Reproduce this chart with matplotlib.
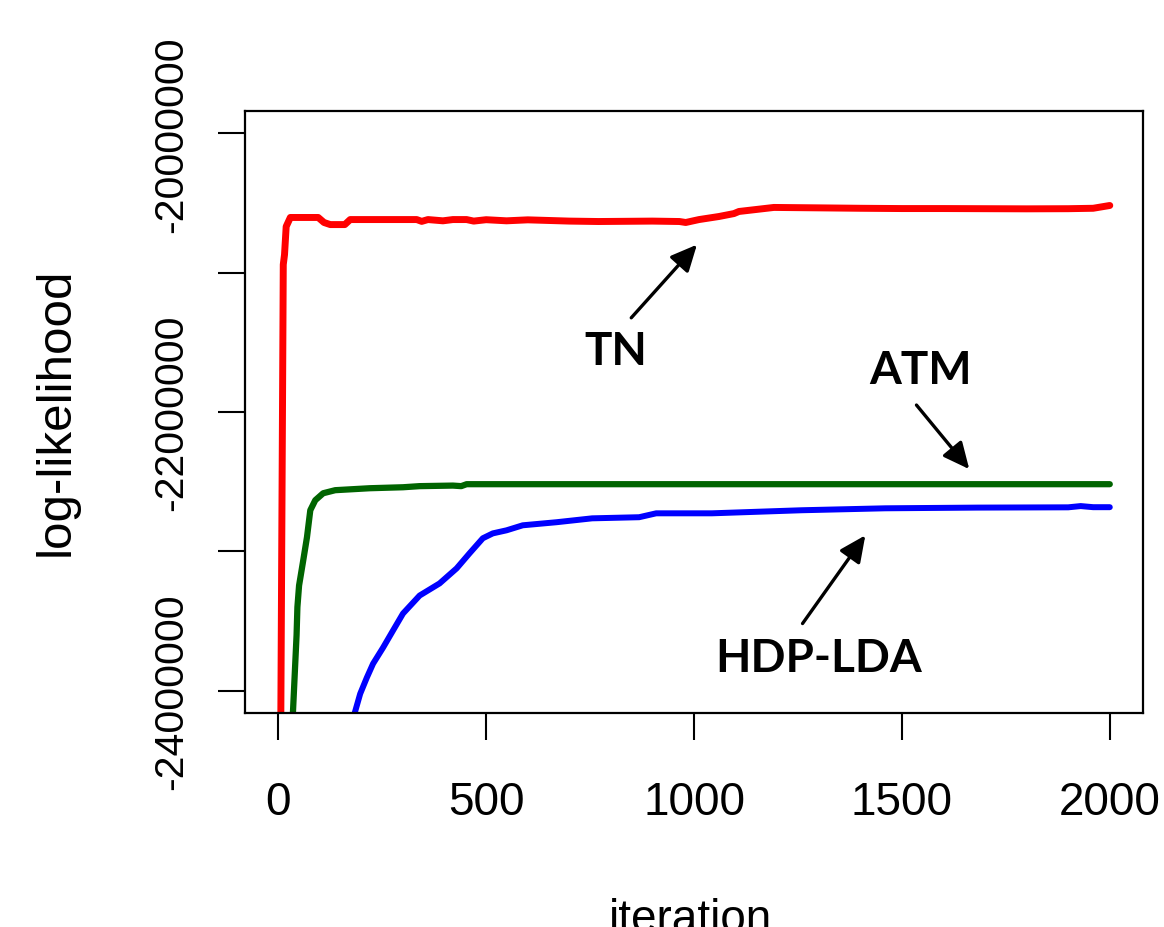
import matplotlib
matplotlib.use("Agg")
import matplotlib.pyplot as plt

# iteration / log-likelihood
tn_iter = [1, 12, 15, 19, 29, 60, 96, 110, 125, 160, 173, 250, 333, 345, 360, 396, 420,
           453, 470, 500, 549, 600, 700, 770, 900, 965, 980, 1012, 1060, 1096, 1108,
           1192, 1300, 1400, 1500, 1600, 1700, 1800, 1900, 1960, 2000]
tn_ll = [-27.0e6, -20.942e6, -20.871e6, -20.669e6, -20.604e6, -20.604e6, -20.604e6,
         -20.640e6, -20.655e6, -20.655e6, -20.619e6, -20.619e6, -20.619e6, -20.632e6,
         -20.619e6, -20.628e6, -20.619e6, -20.619e6, -20.630e6, -20.620e6, -20.628e6,
         -20.621e6, -20.630e6, -20.633e6, -20.630e6, -20.633e6, -20.640e6, -20.619e6,
         -20.597e6, -20.576e6, -20.561e6, -20.532e6, -20.535e6, -20.538e6, -20.540e6,
         -20.540e6, -20.541e6, -20.542e6, -20.541e6, -20.538e6, -20.518e6]

atm_iter = [33, 44, 46, 50, 60, 69, 77, 89, 108, 137, 220, 300, 340, 420, 440, 453, 600,
            1000, 1500, 2000]
atm_ll = [-24.3e6, -23.6e6, -23.4e6, -23.245e6, -23.065e6, -22.899e6, -22.705e6,
          -22.633e6, -22.583e6, -22.561e6, -22.547e6, -22.540e6, -22.532e6, -22.528e6,
          -22.532e6, -22.518e6, -22.518e6, -22.518e6, -22.518e6, -22.518e6]

hdp_iter = [180, 197, 213, 228, 252, 276, 300, 340, 388, 429, 460, 492, 516, 549, 588,
            669, 755, 868, 909, 1043, 1259, 1460, 1683, 1900, 1930, 1960, 2000]
hdp_ll = [-24.2e6, -24.022e6, -23.906e6, -23.806e6, -23.691e6, -23.568e6, -23.446e6,
          -23.317e6, -23.230e6, -23.122e6, -23.014e6, -22.906e6, -22.871e6, -22.849e6,
          -22.813e6, -22.791e6, -22.763e6, -22.755e6, -22.727e6, -22.727e6, -22.705e6,
          -22.691e6, -22.686e6, -22.684e6, -22.675e6, -22.683e6, -22.683e6]

y_ticks = [-24000000, -23000000, -22000000, -21000000, -20000000]
y_tick_labels = ["-24000000", "", "-22000000", "", "-20000000"]
x_ticks = [0, 500, 1000, 1500, 2000]

plt.rcParams["font.family"] = ["Liberation Sans", "DejaVu Sans"]

fig = plt.figure(figsize=(11.64, 9.28), dpi=100)
ax = fig.add_axes([0.2105, 0.2306, 0.7715, 0.6487])

ax.plot(tn_iter, tn_ll, color="#ff0000", lw=5, solid_capstyle="round", solid_joinstyle="round")
ax.plot(atm_iter, atm_ll, color="#006400", lw=4.5, solid_capstyle="round", solid_joinstyle="round")
ax.plot(hdp_iter, hdp_ll, color="#0000ff", lw=4.3, solid_capstyle="round", solid_joinstyle="round")

ax.set_xlim(-80, 2080)
ax.set_ylim(-24.16e6, -19.84e6)

ax.set_xticks(x_ticks)
ax.set_xticklabels([str(t) for t in x_ticks], fontsize=33)
ax.set_yticks(y_ticks)
ax.set_yticklabels(y_tick_labels, fontsize=29.5, rotation=90, va="center")
ax.tick_params(axis="both", length=19.5, width=1.5, color="black")
ax.tick_params(axis="x", pad=29)
ax.tick_params(axis="y", pad=20)
for s in ax.spines.values():
    s.set_linewidth(1.6)

fig.text(0.048, 0.556, "log-likelihood", rotation=90, fontsize=35.5, ha="center", va="center")
fig.text(0.593, -0.004, "iteration", fontsize=33, ha="center", va="baseline")

lab = dict(fontsize=33, fontweight="bold", family=["Lato", "DejaVu Sans"], ha="center", va="center")
arr = dict(arrowstyle="-|>,head_length=1.6,head_width=0.75", color="black", lw=2.4,
           shrinkA=0, shrinkB=0)

ax.text(811, -21.561e6, "TN", **lab)
ax.annotate("", xy=(1007, -20.799e6), xytext=(849, -21.324e6), arrowprops=arr)
ax.text(1544, -21.70e6, "ATM", **lab)
ax.annotate("", xy=(1662, -22.41e6), xytext=(1535, -21.95e6), arrowprops=arr)
ax.text(1300, -23.763e6, "HDP-LDA", **lab)
ax.annotate("", xy=(1412, -22.885e6), xytext=(1261, -23.518e6), arrowprops=arr)

fig.savefig("out.png", dpi=100)
